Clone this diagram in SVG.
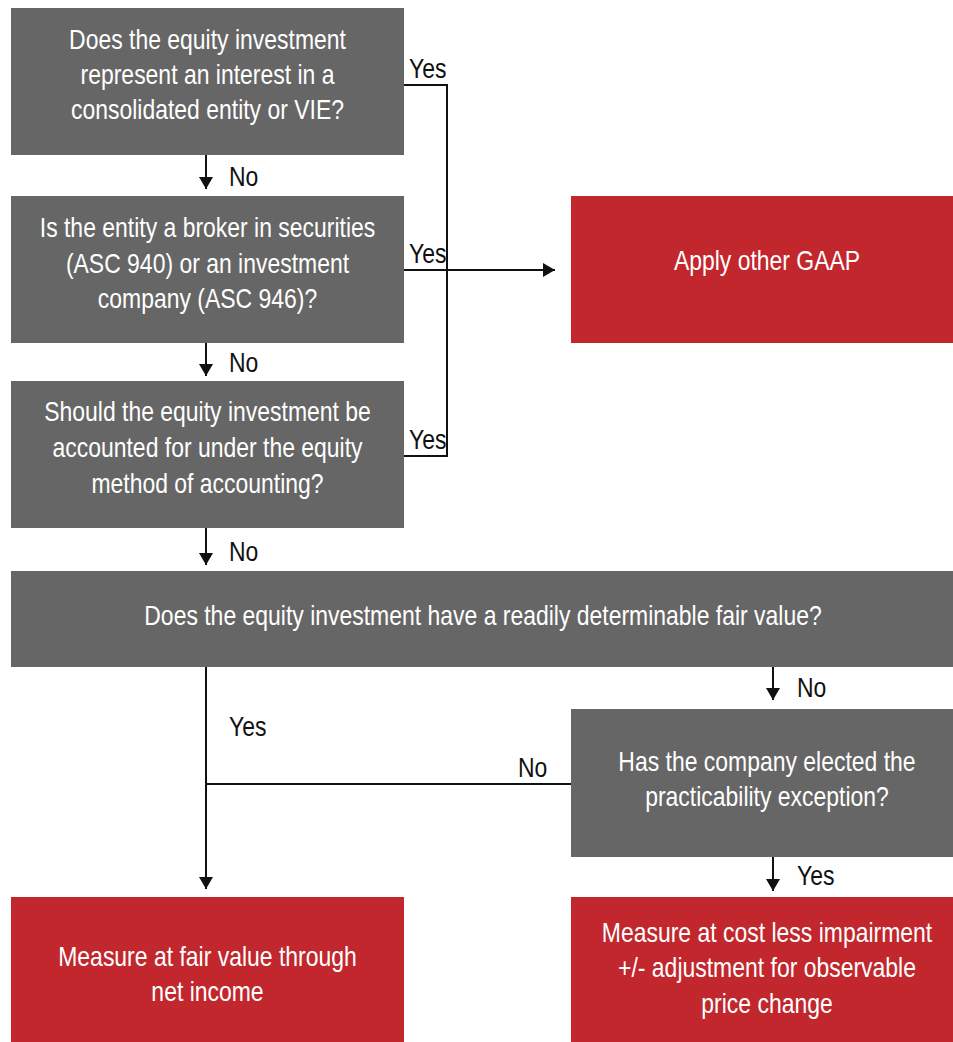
<svg xmlns="http://www.w3.org/2000/svg" width="953" height="1042" viewBox="0 0 953 1042">
<style>
.q{fill:#666666}
.r{fill:#C1272D}
.t{font-family:"Liberation Sans",Arial,sans-serif;font-size:28px;fill:#ffffff;text-anchor:middle}
.l{font-family:"Liberation Sans",Arial,sans-serif;font-size:28px;fill:#111111}
.c{fill:none;stroke:#111111;stroke-width:2}
</style>
<defs>
<marker id="ah" viewBox="0 0 12 14" refX="12" refY="7" markerWidth="12" markerHeight="14" markerUnits="userSpaceOnUse" orient="auto">
<path d="M0,0 L12,7 L0,14 Z" fill="#111111"/>
</marker>
</defs>
<rect width="953" height="1042" fill="#ffffff"/>
<g id="connectors">
<path class="c" d="M206,155 V189" marker-end="url(#ah)"/>
<path class="c" d="M206,343 V376" marker-end="url(#ah)"/>
<path class="c" d="M206,528 V565" marker-end="url(#ah)"/>
<path class="c" d="M404,85 H447 V456 H404"/>
<path class="c" d="M404,270 H555" marker-end="url(#ah)"/>
<path class="c" d="M206,667 V889" marker-end="url(#ah)"/>
<path class="c" d="M571,784 H206"/>
<path class="c" d="M773,667 V700" marker-end="url(#ah)"/>
<path class="c" d="M773,857 V891" marker-end="url(#ah)"/>
<text class="l" transform="matrix(.82,0,0,1,409,78)">Yes</text>
<text class="l" transform="matrix(.82,0,0,1,409,263)">Yes</text>
<text class="l" transform="matrix(.82,0,0,1,409,449)">Yes</text>
<text class="l" transform="matrix(.82,0,0,1,229,186)">No</text>
<text class="l" transform="matrix(.82,0,0,1,229,372)">No</text>
<text class="l" transform="matrix(.82,0,0,1,229,561)">No</text>
<text class="l" transform="matrix(.82,0,0,1,229,736)">Yes</text>
<text class="l" transform="matrix(.82,0,0,1,518,777)">No</text>
<text class="l" transform="matrix(.82,0,0,1,797,697)">No</text>
<text class="l" transform="matrix(.82,0,0,1,797,885)">Yes</text>
</g>
<g id="q1">
<rect class="q" x="11" y="8" width="393" height="147"/>
<text class="t" transform="matrix(.82,0,0,1,207.5,49)">Does the equity investment</text>
<text class="t" transform="matrix(.82,0,0,1,207.5,84)">represent an interest in a</text>
<text class="t" transform="matrix(.82,0,0,1,207.5,119)">consolidated entity or VIE?</text>
</g>
<g id="q2">
<rect class="q" x="11" y="196" width="393" height="147"/>
<text class="t" transform="matrix(.82,0,0,1,207.5,237)">Is the entity a broker in securities</text>
<text class="t" transform="matrix(.82,0,0,1,207.5,273)">(ASC 940) or an investment</text>
<text class="t" transform="matrix(.82,0,0,1,207.5,308)">company (ASC 946)?</text>
</g>
<g id="q3">
<rect class="q" x="11" y="381" width="393" height="147"/>
<text class="t" transform="matrix(.82,0,0,1,207.5,421)">Should the equity investment be</text>
<text class="t" transform="matrix(.82,0,0,1,207.5,457)">accounted for under the equity</text>
<text class="t" transform="matrix(.82,0,0,1,207.5,493)">method of accounting?</text>
</g>
<g id="gaap">
<rect class="r" x="571" y="196" width="382" height="147"/>
<text class="t" transform="matrix(.82,0,0,1,767,270)">Apply other GAAP</text>
</g>
<g id="q4">
<rect class="q" x="11" y="571" width="942" height="96"/>
<text class="t" transform="matrix(.82,0,0,1,483,625)">Does the equity investment have a readily determinable fair value?</text>
</g>
<g id="q5">
<rect class="q" x="571" y="709" width="382" height="148"/>
<text class="t" transform="matrix(.82,0,0,1,767,771)">Has the company elected the</text>
<text class="t" transform="matrix(.82,0,0,1,767,806)">practicability exception?</text>
</g>
<g id="fv">
<rect class="r" x="11" y="897" width="393" height="145"/>
<text class="t" transform="matrix(.82,0,0,1,207.5,966)">Measure at fair value through</text>
<text class="t" transform="matrix(.82,0,0,1,207.5,1001)">net income</text>
</g>
<g id="cost">
<rect class="r" x="571" y="897" width="382" height="145"/>
<text class="t" transform="matrix(.82,0,0,1,767,942)">Measure at cost less impairment</text>
<text class="t" transform="matrix(.82,0,0,1,767,977)">+/- adjustment for observable</text>
<text class="t" transform="matrix(.82,0,0,1,767,1013)">price change</text>
</g>
</svg>
